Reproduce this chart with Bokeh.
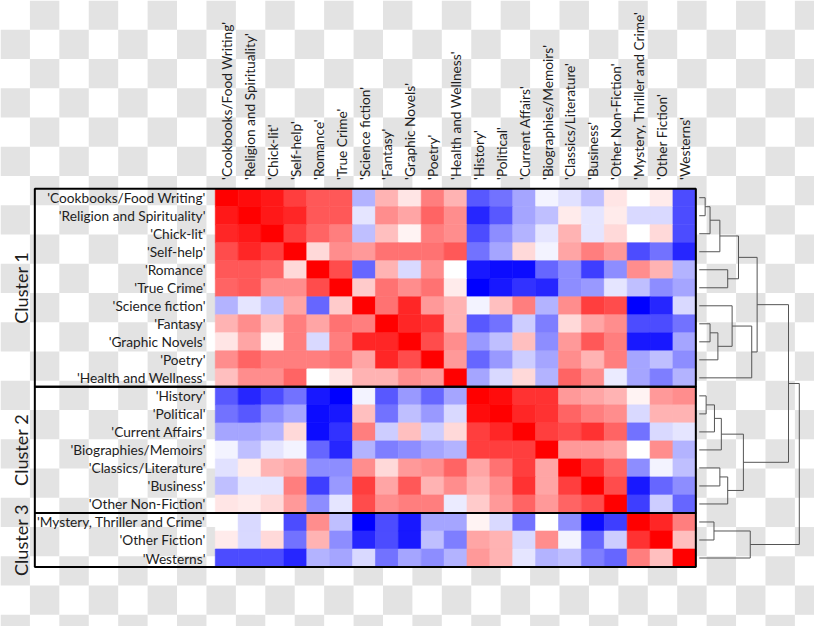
import numpy as np
from bokeh.plotting import figure
from bokeh.models import Range1d, LinearColorMapper, ColumnDataSource
from bokeh.core.properties import value
from bokeh.embed import file_html
from bokeh.resources import INLINE

# ---------------- data ----------------
genres = [
    "'Cookbooks/Food Writing'", "'Religion and Spirituality'", "'Chick-lit'", "'Self-help'",
    "'Romance'", "'True Crime'", "'Science fiction'", "'Fantasy'", "'Graphic Novels'",
    "'Poetry'", "'Health and Wellness'", "'History'", "'Political'", "'Current Affairs'",
    "'Biographies/Memoirs'", "'Classics/Literature'", "'Business'", "'Other Non-Fiction'",
    "'Mystery, Thriller and Crime'", "'Other Fiction'", "'Westerns'",
]

corr = [
    [1.0, 0.95, 0.9, 0.75, 0.65, 0.65, -0.3, 0.3, 0.1, 0.5, 0.3, -0.65, -0.55, -0.35, -0.05, -0.12, -0.25, 0.1, 0.0, 0.08, -0.7],
    [0.9, 1.0, 0.9, 0.85, 0.65, 0.65, -0.1, 0.45, 0.35, 0.6, 0.45, -0.85, -0.65, -0.35, -0.25, 0.08, -0.1, 0.08, -0.15, -0.15, -0.7],
    [0.85, 0.9, 1.0, 0.75, 0.6, 0.5, -0.25, 0.25, 0.05, 0.5, 0.45, -0.7, -0.45, -0.3, -0.1, 0.3, -0.1, 0.15, 0.0, 0.15, -0.7],
    [0.7, 0.85, 0.75, 1.0, 0.15, 0.45, 0.4, 0.55, 0.55, 0.55, 0.65, -0.55, -0.35, 0.15, -0.05, 0.35, 0.5, 0.4, -0.7, -0.55, -0.85],
    [0.65, 0.65, 0.6, 0.15, 1.0, 0.7, -0.6, 0.3, -0.15, 0.45, 0.0, -0.9, -0.95, -0.95, -0.6, -0.45, -0.75, -0.45, 0.45, 0.3, -0.3],
    [0.6, 0.65, 0.45, 0.45, 0.7, 1.0, 0.2, 0.55, 0.45, 0.55, 0.08, -1.0, -0.9, -0.8, -0.85, -0.45, -0.4, -0.1, -0.25, -0.45, -0.35],
    [-0.3, -0.1, -0.25, 0.35, -0.6, 0.2, 1.0, 0.55, 0.85, 0.4, 0.3, -0.05, 0.25, 0.5, -0.3, 0.45, 0.75, 0.7, -1.0, -0.85, -0.15],
    [0.3, 0.45, 0.25, 0.5, 0.35, 0.55, 0.5, 1.0, 0.85, 0.8, 0.3, -0.65, -0.55, -0.2, -0.5, 0.15, 0.35, 0.45, -0.7, -0.7, -0.55],
    [0.1, 0.35, 0.05, 0.5, -0.15, 0.5, 0.85, 0.85, 1.0, 0.7, 0.45, -0.4, -0.25, 0.25, -0.45, 0.4, 0.65, 0.5, -0.9, -0.9, -0.35],
    [0.45, 0.6, 0.5, 0.5, 0.5, 0.55, 0.35, 0.85, 0.7, 1.0, 0.4, -0.6, -0.4, -0.2, -0.35, 0.45, 0.3, 0.5, -0.35, -0.25, -0.45],
    [0.25, 0.45, 0.45, 0.6, 0.0, 0.1, 0.3, 0.3, 0.45, 0.4, 1.0, -0.35, -0.15, 0.15, -0.3, 0.6, 0.45, -0.08, -0.35, -0.5, -0.3],
    [-0.65, -0.85, -0.7, -0.55, -0.9, -1.0, -0.05, -0.65, -0.4, -0.6, -0.35, 1.0, 0.95, 0.8, 0.8, 0.4, 0.35, 0.3, 0.05, 0.4, 0.45],
    [-0.55, -0.65, -0.45, -0.35, -0.95, -0.9, 0.25, -0.55, -0.25, -0.4, -0.15, 0.95, 1.0, 0.85, 0.8, 0.6, 0.5, 0.45, -0.15, 0.3, 0.3],
    [-0.35, -0.35, -0.3, 0.15, -0.95, -0.8, 0.5, -0.2, 0.25, -0.2, 0.15, 0.75, 0.85, 1.0, 0.75, 0.7, 0.8, 0.6, -0.55, -0.15, -0.1],
    [-0.05, -0.25, -0.1, -0.05, -0.6, -0.85, -0.3, -0.5, -0.45, -0.35, -0.3, 0.75, 0.75, 0.75, 1.0, 0.4, 0.4, 0.35, 0.0, 0.45, -0.3],
    [-0.12, 0.08, 0.3, 0.35, -0.45, -0.45, 0.45, 0.15, 0.4, 0.45, 0.6, 0.35, 0.55, 0.75, 0.35, 1.0, 0.8, 0.6, -0.45, -0.05, -0.25],
    [-0.25, -0.1, -0.1, 0.5, -0.75, -0.4, 0.75, 0.35, 0.65, 0.3, 0.45, 0.3, 0.45, 0.8, 0.35, 0.75, 1.0, 0.7, -0.9, -0.6, -0.45],
    [0.1, 0.08, 0.15, 0.4, -0.45, -0.1, 0.7, 0.45, 0.5, 0.5, -0.08, 0.2, 0.4, 0.6, 0.4, 0.6, 0.7, 1.0, -0.75, -0.2, -0.6],
    [0.0, -0.15, 0.0, -0.7, 0.45, -0.25, -1.0, -0.7, -0.9, -0.35, -0.35, 0.05, -0.15, -0.55, 0.0, -0.45, -0.95, -0.75, 1.0, 0.85, 0.5],
    [0.08, -0.15, 0.15, -0.55, 0.3, -0.45, -0.85, -0.7, -0.9, -0.25, -0.5, 0.35, 0.3, -0.15, 0.45, -0.05, -0.6, -0.2, 0.8, 1.0, 0.25],
    [-0.7, -0.7, -0.7, -0.85, -0.3, -0.35, -0.15, -0.55, -0.35, -0.45, -0.3, 0.4, 0.3, -0.1, -0.3, -0.25, -0.5, -0.6, 0.5, 0.25, 1.0],
]

cluster_names = ["Cluster 1", "Cluster 2", "Cluster 3"]
cluster_sizes = [11, 7, 3]

# hierarchical clustering (new node id = 21 + merge index)
link_left = [0, 21, 7, 11, 18, 24, 23, 22, 15, 26, 4, 29, 6, 28, 30, 25, 33, 34, 38, 39]
link_right = [1, 2, 8, 12, 19, 13, 9, 3, 16, 14, 5, 17, 27, 31, 32, 20, 10, 37, 35, 36]
link_height = [0.06, 0.11, 0.11, 0.07, 0.15, 0.155, 0.19, 0.21, 0.21, 0.225, 0.29,
               0.29, 0.335, 0.40, 0.45, 0.52, 0.535, 0.59, 0.91, 1.02]

# ---------------- layout ----------------
W, H = 814, 626
REF_W, REF_H = 830.0, 642.0   # canvas the layout constants are measured on
HX0, HX1 = 219.0, 709.0       # heat-map left/right
HY0, HY1 = 193.0, 581.0       # heat-map top/bottom
n = len(genres)
cw = (HX1 - HX0) / n
rh = (HY1 - HY0) / n
DEND0 = 712.5                 # x of dendrogram leaves
DSCALE = 100.0                # px per unit of linkage height
FS = W / REF_W                # font scale


def dx(px):
    return (px - HX0) / cw


def dy(py):
    return (py - HY0) / rh


p = figure(width=W, height=H,
           x_range=Range1d(dx(0), dx(REF_W)),
           y_range=Range1d(dy(REF_H), dy(0)),
           output_backend="svg", toolbar_location=None,
           x_axis_location=None, y_axis_location=None,
           min_border=0)
p.grid.visible = False
p.outline_line_color = None
p.background_fill_color = "white"
p.border_fill_color = "white"
p.extra_x_ranges = {"dendro": Range1d((0 - DEND0) / DSCALE, (REF_W - DEND0) / DSCALE)}

# checkerboard backdrop (transparent-image pattern)
cl, cr, ct, cb = [], [], [], []
for ix in range(0, 28):
    for iy in range(0, 22):
        if (ix + iy) % 2 == 1:
            cl.append(dx(30 * ix)); cr.append(dx(30 * ix + 30))
            ct.append(dy(30 * iy)); cb.append(dy(30 * iy + 30))
p.quad(left=cl, right=cr, top=ct, bottom=cb, fill_color="#e3e3e3", line_color=None)

# colour map: blue - white - red
palette = []
for t in np.linspace(-1, 1, 255):
    if t < 0:
        c = int(round(255 * (1 + t)))
        palette.append("#%02x%02x%02x" % (c, c, 255))
    else:
        c = int(round(255 * (1 - t)))
        palette.append("#%02x%02x%02x" % (255, c, c))
mapper = LinearColorMapper(palette=palette, low=-1, high=1)

hx, hy, hv = [], [], []
for i in range(n):
    for j in range(n):
        hx.append(j + 0.5); hy.append(i + 0.5); hv.append(corr[i][j])
src = ColumnDataSource(dict(x=hx, y=hy, v=hv))
p.rect(x="x", y="y", width=1, height=1, source=src,
       fill_color={"field": "v", "transform": mapper},
       line_color={"field": "v", "transform": mapper}, line_width=0.6)

FONT = value("Lato")
TXT = "#1e1e1e"
lab_size = "%.1fpx" % (14.0 * FS)

# row labels
p.text(x=[dx(209)] * n, y=[i + 0.5 for i in range(n)], text=genres,
       text_align="right", text_baseline="middle", text_font=FONT,
       text_font_size=lab_size, text_color=TXT)

# column labels
p.text(x=[j + 0.5 for j in range(n)], y=[dy(184)] * n, text=genres,
       angle=np.pi / 2, text_align="left", text_baseline="middle",
       text_font=FONT, text_font_size=lab_size, text_color=TXT)

# cluster boxes and labels
starts = np.cumsum([0] + cluster_sizes[:-1])
ends = np.cumsum(cluster_sizes)
p.quad(left=[dx(35)] * 3, right=[n] * 3, top=list(starts), bottom=list(ends),
       fill_color=None, line_color="black", line_width=2)
p.text(x=[dx(21)] * 3, y=[(s + e) / 2 for s, e in zip(starts, ends)], text=cluster_names,
       angle=np.pi / 2, text_align="center", text_baseline="middle",
       text_font=FONT, text_font_size="%.1fpx" % (18.5 * FS), text_color=TXT)

# dendrogram
pos = {i: i + 0.5 for i in range(n)}
hgt = {i: 0.0 for i in range(n)}
xs, ys = [], []
for k, (a, b, h) in enumerate(zip(link_left, link_right, link_height)):
    xs.append([hgt[a], h, h, hgt[b]])
    ys.append([pos[a], pos[a], pos[b], pos[b]])
    pos[n + k] = (pos[a] + pos[b]) / 2
    hgt[n + k] = h
p.multi_line(xs=xs, ys=ys, x_range_name="dendro", line_color="#555555", line_width=1)

open("out.html", "w").write(file_html(p, INLINE))
